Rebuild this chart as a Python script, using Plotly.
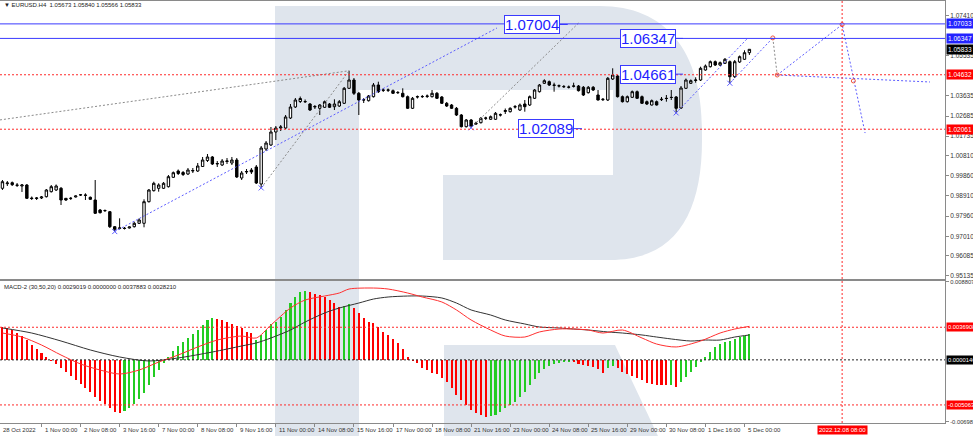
import plotly.graph_objects as go

# ---------------- data ----------------
bar_index = list(range(-8, 146))

open_ = [0.99272,0.99489,0.99537,0.99428,0.99381,0.99428,0.98814,0.98791,0.98814,0.98876,
         0.99112,0.99192,0.99272,0.98800,0.98791,0.98862,0.98956,0.98956,0.98847,0.98720,
         0.98248,0.98215,0.98168,0.97460,0.97384,0.97375,0.97398,0.97460,0.97620,0.97620,
         0.98640,0.99159,0.99272,0.99272,0.99348,0.99791,1.00089,1.00018,0.99947,1.00089,
         1.00089,1.00301,1.00584,1.00750,1.00419,1.00372,1.00537,1.00466,1.00608,0.99758,
         1.00042,1.00136,1.00278,0.99475,1.01127,1.01316,1.01930,1.02118,1.02118,1.02590,
         1.03110,1.03369,1.03369,1.03251,1.03110,1.03048,1.03095,1.03251,1.03124,1.03157,
         1.03284,1.03992,1.04384,1.03756,1.03454,1.03407,1.03596,1.04148,1.03912,1.03898,
         1.03879,1.03785,1.03756,1.03596,1.03048,1.03582,1.03596,1.03605,1.03596,1.03756,
         1.03582,1.03284,1.03204,1.03048,1.02732,1.02180,1.02496,1.02307,1.02369,1.02576,
         1.02529,1.02529,1.02732,1.02897,1.02888,1.03110,1.02968,1.03251,1.03204,1.03520,
         1.03832,1.04228,1.04304,1.04148,1.04101,1.04077,1.04039,1.04087,1.04101,1.04039,
         1.03785,1.04039,1.03676,1.03454,1.03440,1.04431,1.04573,1.03596,1.03360,1.03567,
         1.03832,1.03596,1.03360,1.03204,1.03360,1.03454,1.03520,1.03567,1.03582,1.03062,
         1.03992,1.04228,1.04360,1.04384,1.04856,1.05012,1.05248,1.05092,1.05172,1.05248,
         1.04540,1.05234,1.05361,1.05673]
high_ = [0.99664,0.99617,0.99593,0.99522,0.99475,0.99475,0.98885,0.98862,0.98909,0.99239,
         0.99428,0.99452,0.99334,0.98814,0.98862,0.98932,0.99003,0.99036,0.98885,0.99664,
         0.98295,0.98272,0.98201,0.97493,0.97856,0.97446,0.97469,0.97696,0.97856,0.98753,
         0.99239,0.99584,0.99508,0.99570,0.99900,1.00065,1.00160,1.00089,1.00230,1.00230,
         1.00466,1.00750,1.00891,1.00797,1.00561,1.00655,1.00702,1.00750,1.00702,1.00089,
         1.00183,1.00230,1.00372,1.01269,1.01505,1.02166,1.02213,1.02260,1.02732,1.03251,
         1.03534,1.03605,1.03464,1.03298,1.03204,1.03251,1.03416,1.03298,1.03473,1.03440,
         1.04054,1.04823,1.04478,1.03818,1.03534,1.03676,1.04242,1.04304,1.04006,1.03983,
         1.03936,1.03865,1.03992,1.03652,1.03582,1.03652,1.03676,1.03700,1.03912,1.03818,
         1.03629,1.03346,1.03251,1.03110,1.02779,1.02543,1.02543,1.02416,1.02638,1.02652,
         1.02708,1.02874,1.02803,1.03039,1.03095,1.03204,1.03275,1.03440,1.03652,1.03959,
         1.04195,1.04417,1.04360,1.04257,1.04172,1.04148,1.04124,1.04257,1.04148,1.04101,
         1.04101,1.04101,1.03912,1.03534,1.04526,1.04936,1.04620,1.03652,1.03652,1.03888,
         1.03888,1.03652,1.03416,1.03464,1.03416,1.03582,1.03676,1.03912,1.03629,1.04101,
         1.04455,1.04408,1.04511,1.05012,1.05116,1.05304,1.05304,1.05257,1.05422,1.05304,
         1.05328,1.05540,1.05786,1.05840]
low_ = [0.99192,0.99381,0.99381,0.99334,0.99098,0.98767,0.98720,0.98720,0.98767,0.98838,
        0.99074,0.99145,0.98484,0.98673,0.98720,0.98838,0.98909,0.98720,0.98720,0.98059,
        0.98083,0.98154,0.97398,0.97233,0.97328,0.97328,0.97375,0.97422,0.97587,0.97431,
        0.98602,0.99121,0.99112,0.99239,0.99310,0.99758,0.99900,0.99853,0.99900,0.99994,
        1.00042,1.00278,1.00514,1.00372,1.00278,1.00325,1.00419,1.00372,0.99758,0.99664,
        0.99947,0.99947,0.99475,0.99286,1.01033,1.01269,1.01552,1.01977,1.02071,1.02543,
        1.03062,1.03298,1.03298,1.02921,1.03015,1.02732,1.03062,1.03062,1.02968,1.03110,
        1.03251,1.03959,1.03676,1.02732,1.03298,1.03369,1.03558,1.03770,1.03818,1.03818,
        1.03723,1.03723,1.03558,1.03015,1.03015,1.03511,1.03534,1.03534,1.03558,1.03487,
        1.03251,1.03110,1.03015,1.02685,1.02142,1.02142,1.02133,1.02260,1.02331,1.02496,
        1.02496,1.02496,1.02661,1.02779,1.02850,1.03039,1.02921,1.02888,1.03157,1.03487,
        1.03794,1.04195,1.04101,1.03832,1.04030,1.04006,1.03983,1.04030,1.03841,1.03629,
        1.03747,1.03865,1.03416,1.03393,1.03393,1.04384,1.03558,1.03322,1.03322,1.03534,
        1.03487,1.03251,1.03204,1.03180,1.03180,1.03393,1.03360,1.03440,1.02826,1.03015,
        1.03959,1.04195,1.04257,1.04337,1.04823,1.04974,1.05045,1.05045,1.05139,1.04228,
        1.04478,1.05186,1.05328,1.05566]
close_ = [0.99584,0.99522,0.99442,0.99414,0.99428,0.98800,0.98791,0.98814,0.98862,0.99192,
          0.99348,0.99381,0.98720,0.98720,0.98800,0.98909,0.98965,0.98942,0.98753,0.98092,
          0.98121,0.98224,0.97460,0.97337,0.97398,0.97384,0.97446,0.97620,0.97776,0.98640,
          0.99192,0.99508,0.99428,0.99508,0.99820,1.00009,0.99971,0.99924,1.00136,1.00112,
          1.00325,1.00608,1.00750,1.00419,1.00443,1.00561,1.00561,1.00608,0.99806,0.99994,
          1.00065,1.00042,0.99522,1.01174,1.01410,1.01930,1.02118,1.02166,1.02638,1.03110,
          1.03440,1.03511,1.03360,1.02968,1.03133,1.03204,1.03360,1.03095,1.03251,1.03360,
          1.03992,1.04384,1.03756,1.03440,1.03440,1.03629,1.04148,1.03832,1.03898,1.03912,
          1.03756,1.03794,1.03596,1.03048,1.03520,1.03596,1.03605,1.03629,1.03756,1.03520,
          1.03284,1.03157,1.03048,1.02732,1.02180,1.02496,1.02213,1.02340,1.02576,1.02590,
          1.02652,1.02812,1.02741,1.02944,1.03048,1.03124,1.03204,1.03124,1.03596,1.03912,
          1.04148,1.04351,1.04148,1.04134,1.04110,1.04068,1.04049,1.04101,1.03879,1.03676,
          1.04039,1.03912,1.03440,1.03473,1.04464,1.04620,1.03596,1.03360,1.03596,1.03832,
          1.03520,1.03284,1.03251,1.03407,1.03204,1.03473,1.03511,1.03558,1.03048,1.04006,
          1.04384,1.04351,1.04384,1.04936,1.05045,1.05248,1.05092,1.05201,1.05361,1.04540,
          1.05248,1.05484,1.05673,1.05833]

hist_vals = [0.00372,0.00361,0.00338,0.00304,0.00270,0.00225,0.00169,0.00124,0.00079,0.00034,
             -0.00011,-0.00045,-0.00090,-0.00135,-0.00180,-0.00225,-0.00270,-0.00316,-0.00361,-0.00417,
             -0.00462,-0.00496,-0.00541,-0.00586,-0.00597,-0.00575,-0.00541,-0.00496,-0.00440,-0.00372,
             -0.00282,-0.00192,-0.00113,-0.00034,0.00034,0.00101,0.00158,0.00203,0.00248,0.00293,
             0.00338,0.00394,0.00451,0.00473,0.00462,0.00451,0.00428,0.00406,0.00383,0.00357,
             0.00319,0.00301,0.00225,0.00282,0.00338,0.00406,0.00432,0.00488,0.00564,0.00639,
             0.00713,0.00770,0.00781,0.00770,0.00744,0.00733,0.00713,0.00676,0.00639,0.00601,
             0.00609,0.00631,0.00583,0.00526,0.00470,0.00432,0.00414,0.00375,0.00319,0.00282,
             0.00237,0.00188,0.00124,0.00030,-0.00006,-0.00037,-0.00094,-0.00113,-0.00150,-0.00158,
             -0.00206,-0.00245,-0.00319,-0.00394,-0.00451,-0.00507,-0.00564,-0.00601,-0.00620,-0.00639,
             -0.00631,-0.00620,-0.00583,-0.00544,-0.00507,-0.00470,-0.00414,-0.00357,-0.00282,-0.00218,
             -0.00150,-0.00105,-0.00068,-0.00045,-0.00030,-0.00023,-0.00015,-0.00026,-0.00045,-0.00056,
             -0.00062,-0.00076,-0.00105,-0.00143,-0.00094,-0.00068,-0.00094,-0.00132,-0.00158,-0.00180,
             -0.00206,-0.00225,-0.00256,-0.00270,-0.00282,-0.00282,-0.00282,-0.00282,-0.00301,-0.00245,
             -0.00188,-0.00132,-0.00076,-0.00019,0.00030,0.00094,0.00143,0.00180,0.00203,0.00214,
             0.00237,0.00259,0.00270,0.00290]
hist_dir = ("RRRRRRRRRRRRRRRRRRRRRRRRR" "GGGGGGGGGGGGGGGGGGG" "RRRRRRRR" "GGGGGGGGGGG"
            "RRRRRRR" "GG" "RRRRRRRRRRRRRRRRRRRRRRRRRRRR" "GGGGGGGGGGGGGGGGG" "RRRRRRR" "GG"
            "RRRRRRRRRRR" "G" "R" "GGGGGGGGGGGGGGG")

macd_idx = [-8,-4,0,4,8,12,16,20,24,28,32,36,41,44,47,51,54,58,61,63,68,71,75,78,82,85,88,92,95,99,
            102,106,109,112,115,119,123,126,130,135,139,142,145]
macd_vals = [0.00304,0.00259,0.00169,0.00056,-0.00045,-0.00113,-0.00158,-0.00113,-0.00023,0.00056,
             0.00147,0.00225,0.00270,0.00248,0.00394,0.00586,0.00676,0.00721,0.00755,0.00800,
             0.00811,0.00800,0.00755,0.00710,0.00654,0.00564,0.00451,0.00338,0.00270,0.00259,
             0.00316,0.00349,0.00349,0.00338,0.00304,0.00338,0.00248,0.00180,0.00147,0.00214,
             0.00304,0.00349,0.00379]
signal_idx = [-8,-2,4,10,16,22,28,35,41,44,47,51,54,58,61,65,68,71,75,78,82,85,88,92,95,99,102,106,
              109,112,116,119,123,126,129,133,136,139,142,145]
signal_vals = [0.00361,0.00304,0.00214,0.00113,0.00034,-0.00011,0.00023,0.00090,0.00158,0.00192,
               0.00248,0.00338,0.00428,0.00530,0.00586,0.00642,0.00687,0.00710,0.00721,0.00721,
               0.00699,0.00642,0.00564,0.00507,0.00451,0.00406,0.00372,0.00361,0.00349,0.00338,
               0.00316,0.00304,0.00282,0.00259,0.00237,0.00214,0.00225,0.00225,0.00259,0.00282]

tick_idx = [0,8,16,24,32,40,48,56,64,72,80,88,96,104,112,120,128,136,144]
tick_text = ["1 Nov 00:00","2 Nov 08:00","3 Nov 16:00","7 Nov 00:00","8 Nov 08:00","9 Nov 16:00",
             "11 Nov 00:00","14 Nov 08:00","15 Nov 16:00","17 Nov 00:00","18 Nov 08:00","21 Nov 16:00",
             "23 Nov 00:00","24 Nov 08:00","25 Nov 16:00","29 Nov 00:00","30 Nov 08:00","1 Dec 16:00",
             "5 Dec 00:00"]
first_label = "28 Oct 2022"
future_idx = 164
future_label = "2022.12.08 08:00"

price_ticks = [1.07410,1.05535,1.03635,1.02685,1.01735,1.00810,0.99860,0.98910,0.97960,0.97010,0.96085,0.95135]
macd_ticks = [0.0088071, -0.006985]
macd_tick_text = ["0.0088071", "-0.006985"]

blue_levels = [1.07033, 1.06347]
red_levels = [1.04632, 1.02061]
last_price = 1.05833
macd_red_levels = [0.0036908, -0.0050637]
macd_zero_level = 0.0000146

# target labels: (text value, box centre bar, pointer bar)
target_labels = [(1.07004, 100.5, 107.8), (1.06347, 124.2, 131.4),
                 (1.04661, 124.2, 131.4), (1.02089, 103.4, 110.7)]

# drawn pattern lines (bar index, price)
blue_trend_x = [[15, 93.3], [130, 144.7], [141, 149.8], [150.7, 164, 168.7], [150.7, 182]]
blue_trend_y = [[0.9723, 1.0684], [1.0283, 1.0637], [1.0423, 1.0637], [1.0462, 1.0700, 1.0188], [1.0462, 1.0429]]
gray_trend_x = [[-8.5, 63], [45, 63], [88, 110], [149.8, 150.7]]
gray_trend_y = [[1.0250, 1.0482], [0.9929, 1.0482], [1.0213, 1.0707], [1.0637, 1.0462]]
x_marks_x = [15, 45, 88, 130, 141]
x_marks_y = [0.9723, 0.9929, 1.0213, 1.0283, 1.0423]
o_marks_x = [149.8, 150.7, 164, 166.3]
o_marks_y = [1.0637, 1.0462, 1.0700, 1.0434]

header_text = "▼ EURUSD.H4  1.05673 1.05840 1.05566 1.05833"
macd_header = "MACD-2 (30,50,20) 0.0029019 0.0000000 0.0037883 0.0028210"

# ---------------- layout helpers ----------------
W, H = 973, 436
ML, MR, MT, MB = 0, 28, 0, 12
PW, PH = W - ML - MR, H - MT - MB
XR = [-8.5, 185.07]
def px(x): return x / PW
def py(y): return 1 - y / PH

FONT = "Liberation Sans, Arial, sans-serif"
BLUE = "#3a3aff"
LBLUE = "#5c5cff"
RED = "#ff2a2a"
GRAY = "#8a8a8a"
WM = "#dfe5ed"

fig = go.Figure()

fig.add_trace(go.Candlestick(
    x=bar_index, open=open_, high=high_, low=low_, close=close_,
    increasing=dict(line=dict(color="black", width=1), fillcolor="white"),
    decreasing=dict(line=dict(color="black", width=1), fillcolor="black"),
    whiskerwidth=0, xaxis="x", yaxis="y", showlegend=False, hoverinfo="skip"))

for xs, ys in zip(gray_trend_x, gray_trend_y):
    fig.add_trace(go.Scatter(x=xs, y=ys, mode="lines", xaxis="x", yaxis="y",
                             line=dict(color=GRAY, width=1, dash="2px,2px"), showlegend=False, hoverinfo="skip"))
for xs, ys in zip(blue_trend_x, blue_trend_y):
    fig.add_trace(go.Scatter(x=xs, y=ys, mode="lines", xaxis="x", yaxis="y",
                             line=dict(color=LBLUE, width=1, dash="2px,2px"), showlegend=False, hoverinfo="skip"))
fig.add_trace(go.Scatter(x=x_marks_x, y=x_marks_y, mode="markers", xaxis="x", yaxis="y",
                         marker=dict(symbol="x-thin", size=5, line=dict(color=LBLUE, width=1)),
                         showlegend=False, hoverinfo="skip"))
fig.add_trace(go.Scatter(x=o_marks_x, y=o_marks_y, mode="markers", xaxis="x", yaxis="y",
                         marker=dict(symbol="circle-open", size=4, line=dict(color=LBLUE, width=1)),
                         showlegend=False, hoverinfo="skip"))

# MACD panel
fig.add_trace(go.Bar(x=bar_index, y=hist_vals, xaxis="x2", yaxis="y2", width=0.42,
                     marker=dict(color=["#ff0000" if d == "R" else "#22cc22" for d in hist_dir], line=dict(width=0)),
                     showlegend=False, hoverinfo="skip"))
fig.add_trace(go.Scatter(x=signal_idx, y=signal_vals, mode="lines", xaxis="x2", yaxis="y2",
                         line=dict(color="#333333", width=1, shape="spline", smoothing=0.8),
                         showlegend=False, hoverinfo="skip"))
fig.add_trace(go.Scatter(x=macd_idx, y=macd_vals, mode="lines", xaxis="x2", yaxis="y2",
                         line=dict(color="#ff3030", width=1, shape="spline", smoothing=0.8),
                         showlegend=False, hoverinfo="skip"))

shapes = []
# watermark "R"
bowl = ("M {a},{b} L {c},{b} C {d},{b} {e},{f} {e},{g} L {e},{h} C {e},{i} {j},{k} {l},{k} "
        "L {m},{k} L {m},{n} L {o},{n} L {o},{p} L {a},{p} Z").format(
    a=px(359), b=py(6), c=px(600), d=px(665), e=px(702), f=py(50), g=py(130), h=py(140),
    i=py(215), j=px(675), k=py(260), l=px(610), m=px(443), n=py(175), o=px(613), p=py(90))
shapes.append(dict(type="rect", xref="paper", yref="paper", x0=px(275), x1=px(359), y0=py(6), y1=py(436),
                   fillcolor=WM, line=dict(width=0), layer="below"))
shapes.append(dict(type="path", xref="paper", yref="paper", path=bowl, fillcolor=WM, line=dict(width=0), layer="below"))
leg = "M {a},{b} L {c},{b} L {d},{e} L {a},{e} Z".format(a=px(444), b=py(345), c=px(615), d=px(658), e=py(436))
shapes.append(dict(type="path", xref="paper", yref="paper", path=leg, fillcolor=WM, line=dict(width=0), layer="below"))

for lv in blue_levels:
    shapes.append(dict(type="line", xref="paper", yref="y", x0=0, x1=1, y0=lv, y1=lv,
                       line=dict(color=BLUE, width=1)))
for lv in red_levels:
    shapes.append(dict(type="line", xref="paper", yref="y", x0=0, x1=1, y0=lv, y1=lv,
                       line=dict(color=RED, width=1, dash="2px,2px")))
for lv in macd_red_levels:
    shapes.append(dict(type="line", xref="paper", yref="y2", x0=0, x1=1, y0=lv, y1=lv,
                       line=dict(color=RED, width=1, dash="2px,2px")))
shapes.append(dict(type="line", xref="paper", yref="y2", x0=0, x1=1, y0=macd_zero_level, y1=macd_zero_level,
                   line=dict(color="#222222", width=1, dash="2px,2px")))
shapes.append(dict(type="line", xref="x", yref="paper", x0=future_idx, x1=future_idx, y0=py(423), y1=py(1),
                   line=dict(color=RED, width=1, dash="2px,2px")))

ann = []
ann.append(dict(xref="paper", yref="paper", x=px(2), y=py(5), text=header_text, showarrow=False,
                xanchor="left", yanchor="middle", font=dict(family=FONT, size=6, color="#222")))
ann.append(dict(xref="paper", yref="paper", x=px(2), y=py(287), text=macd_header, showarrow=False,
                xanchor="left", yanchor="middle", font=dict(family=FONT, size=6, color="#222")))

# right-axis value tags
def tag(yref, val, txt, bg, size=6.5):
    ann.append(dict(xref="paper", yref=yref, x=px(946), y=val, text=txt, showarrow=False,
                    xanchor="left", yanchor="middle", bgcolor=bg, borderpad=1,
                    font=dict(family=FONT, size=size, color="white")))
for lv in blue_levels:
    tag("y", lv, f"{lv:.5f}", "#2323ff")
tag("y", last_price, f"{last_price:.5f}", "#000000")
for lv in red_levels:
    tag("y", lv, f"{lv:.5f}", "#ff0000")
tag("y2", macd_red_levels[0], f"{macd_red_levels[0]:.7f}", "#ff0000", 5.8)
tag("y2", macd_zero_level, f"{macd_zero_level:.7f}", "#000000", 5.8)
tag("y2", macd_red_levels[1], f"{macd_red_levels[1]:.7f}", "#ff0000", 5.8)

# target boxes
for val, cx, hx in target_labels:
    ann.append(dict(xref="x", yref="y", x=hx, y=val, ax=(cx - hx) * PW / (XR[1] - XR[0]), ay=0,
                    axref="pixel", ayref="pixel", text=f"{val:.5f}", showarrow=True, arrowhead=0,
                    arrowwidth=1, arrowcolor=BLUE, bgcolor="white", bordercolor=BLUE, borderwidth=1,
                    borderpad=0, font=dict(family=FONT, size=15, color="#1e1eff")))

# x labels
XFONT = dict(family=FONT, size=6, color="#333")
ann.append(dict(xref="paper", yref="paper", x=px(1), y=py(430), text=first_label, showarrow=False,
                xanchor="left", yanchor="middle", font=XFONT))
for ti, tt in zip(tick_idx, tick_text):
    ann.append(dict(xref="x2", yref="paper", x=ti, y=py(430), text=tt, showarrow=False, xshift=1,
                    xanchor="left", yanchor="middle", font=XFONT))
ann.append(dict(xref="x2", yref="paper", x=future_idx, y=py(430), text=future_label, showarrow=False,
                xanchor="center", yanchor="middle", bgcolor="#ff0000", borderpad=1,
                font=dict(family=FONT, size=6, color="white")))

axis_common = dict(showgrid=False, zeroline=False, showline=True, linecolor=GRAY, linewidth=1,
                   fixedrange=True, automargin=False)
fig.update_layout(
    width=W, height=H, margin=dict(l=ML, r=MR, t=MT, b=MB, pad=0, autoexpand=False),
    paper_bgcolor="white", plot_bgcolor="rgba(0,0,0,0)", showlegend=False,
    font=dict(family=FONT, size=7, color="#333"),
    xaxis=dict(domain=[0, 1], anchor="y", range=XR, showticklabels=False, ticks="", mirror=True,
               rangeslider=dict(visible=False), **axis_common),
    yaxis=dict(domain=[py(279), py(1)], anchor="x", side="right", range=[0.949912, 1.081128],
               tickvals=price_ticks, ticktext=[f"{v:.5f}" for v in price_ticks], ticks="outside",
               ticklen=3, tickcolor=GRAY, tickfont=dict(family=FONT, size=6.5, color="#333"), **axis_common),
    xaxis2=dict(domain=[0, 1], anchor="y2", range=XR, tickvals=tick_idx, ticktext=["" for _ in tick_idx],
                ticks="outside", ticklen=3, tickcolor=GRAY, mirror=True, **axis_common),
    yaxis2=dict(domain=[py(423), py(281)], anchor="x2", side="right", range=[-0.0071001, 0.0089033],
                tickvals=macd_ticks, ticktext=macd_tick_text, ticks="outside", ticklen=3, tickcolor=GRAY,
                tickfont=dict(family=FONT, size=5.8, color="#333"), **axis_common),
    shapes=shapes, annotations=ann, bargap=0,
)

fig.write_html("out.html", config={"displayModeBar": False},
               post_script="document.body.style.margin='0';document.body.style.overflow='hidden';")
